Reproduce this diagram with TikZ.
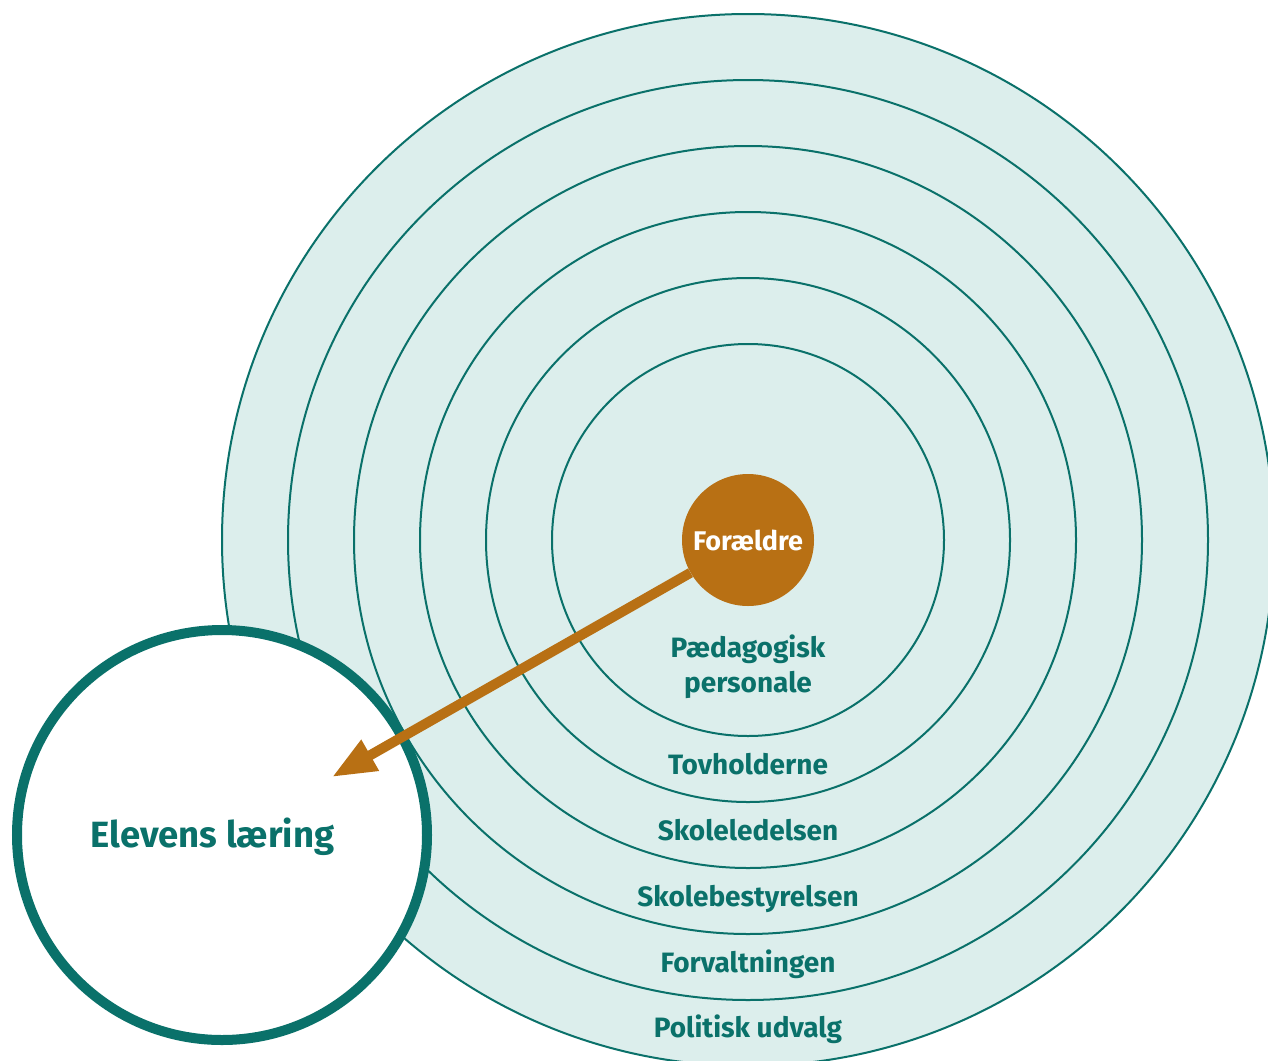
\documentclass[tikz,border=0pt]{standalone}
\usepackage{fontspec}
\setmainfont{Fira Sans}
\usetikzlibrary{arrows.meta}
\definecolor{myteal}{HTML}{0A716A}
\definecolor{ringfill}{HTML}{DCEEEC}
\definecolor{myorange}{HTML}{B87014}
\begin{document}
\begin{tikzpicture}[x=1pt,y=-1pt,
  ring/.style={circle, draw=myteal, line width=2pt, minimum size=#1, inner sep=0pt},
  lbl/.style={font=\fontsize{28}{32}\selectfont\bfseries, text=myteal, anchor=base},
  arr/.style={-{Triangle[length=44pt,width=33pt]}, line width=10pt, draw=myorange}
]
\useasboundingbox (0,0) rectangle (1268,1060);
\clip (0,0) rectangle (1268,1060);
\fill[white] (0,0) rectangle (1268,1060);
\node[ring=1052pt, fill=ringfill] (r6) at (748,540) {};
\node[ring=920pt] (r5) at (748,540) {};
\node[ring=788pt] (r4) at (748,540) {};
\node[ring=656pt] (r3) at (748,540) {};
\node[ring=524pt] (r2) at (748,540) {};
\node[ring=392pt] (r1) at (748,540) {};
\node[circle, fill=myorange, minimum size=132pt, inner sep=0pt,
      font=\fontsize{27}{30}\selectfont\bfseries, text=white] (for) at (748,540) {Forældre};
\node[lbl] (l1a) at (748,657) {Pædagogisk};
\node[lbl] (l1b) at (748,692) {personale};
\node[lbl] (l2) at (748,774) {Tovholderne};
\node[lbl] (l3) at (748,840) {Skoleledelsen};
\node[lbl] (l4) at (748,906) {Skolebestyrelsen};
\node[lbl] (l5) at (748,972) {Forvaltningen};
\node[lbl] (l6) at (748,1037) {Politisk udvalg};
\node[circle, draw=myteal, line width=10pt, fill=white, minimum size=410pt, inner sep=0pt] (elev) at (222,835) {};
\node[font=\fontsize{36.5}{40}\selectfont\bfseries, text=myteal, anchor=base] (elevl) at (212.5,847) {Elevens læring};
\coordinate (tip) at (332,777);
\draw[arr] (for) -- (tip);
\end{tikzpicture}
\end{document}
